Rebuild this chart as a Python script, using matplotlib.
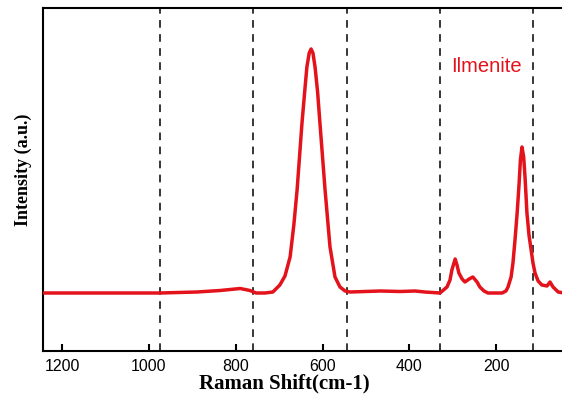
import matplotlib
matplotlib.use("Agg")
import matplotlib.pyplot as plt

# Raman spectrum (wavenumber in cm-1, intensity in a.u.)
shift = [1255, 1129, 1000, 921, 871, 828, 807, 794, 775, 758,
         743, 732, 721, 713, 706, 695.5, 689, 685, 680, 676,
         672, 667.5, 662, 657, 646, 635.4, 624.7, 614, 603, 592.5,
         528, 485, 453, 432, 399.5, 384.5, 378, 374, 367, 363,
         359, 352, 346, 337, 329, 320, 314, 305, 296.5, 266.5,
         258, 253.6, 247, 243, 238.6, 234, 230, 227, 223.6, 220,
         217, 213, 208.6, 204, 200, 195.7, 189, 181, 170, 163.5,
         157, 146, 133]
intensity = [58, 58, 58, 59, 60.5, 62.5, 60.5, 58, 58, 59,
             66, 75, 94, 126, 161, 228, 263, 284, 298, 302,
             298, 284, 259, 228, 161, 104, 74, 64, 60, 59,
             60, 59.5, 60, 59, 58, 64, 71, 81, 92, 86,
             78, 72, 69, 72, 74, 69, 64, 60, 58, 58,
             60, 64, 74, 88, 111, 138, 166, 191, 204, 194,
             173, 138, 116, 101, 88, 78, 70, 66, 65, 69,
             64, 59, 58]

guide_lines = [1000, 800, 600, 400, 200]
tick_labels = [1200, 1000, 800, 600, 400, 200]
# the printed axis is slightly off-scale from the guide lines
tick_pos = [279 + (t - 200) * 0.931 for t in tick_labels]

red = "#e3121b"

fig = plt.figure(figsize=(5.62, 3.95), dpi=100)
ax = fig.add_axes([43 / 562, 44 / 395, 1 - 43 / 562, (351 - 8) / 395])

for g in guide_lines:
    ax.axvline(g, color="black", lw=1.1, dashes=(5, 4.2), zorder=1)

ax.plot(shift, intensity, color=red, lw=2.5, solid_joinstyle="round", zorder=3)

ax.set_xlim(1251, 137.8)
ax.set_ylim(0, 343)

ax.set_xticks(tick_pos)
ax.set_xticklabels([str(t) for t in tick_labels], fontfamily="Liberation Sans", fontsize=11.5)
ax.set_yticks([])
ax.tick_params(axis="x", direction="in", length=5, width=1.5, pad=5.5)

for side in ["left", "bottom", "top"]:
    ax.spines[side].set_linewidth(1.5)
ax.spines["right"].set_visible(False)

ax.text(300.8, 284, "Ilmenite", color=red, fontsize=14.5, fontfamily="Liberation Sans",
        ha="center", va="center")

fig.text(284 / 562, 1 - 388 / 395, "Raman Shift(cm-1)", fontfamily="Liberation Serif",
         fontweight="bold", fontsize=15, ha="center", va="baseline")
fig.text(23 / 562, 1 - 170 / 395, "Intensity (a.u.)", fontfamily="Liberation Serif",
         fontweight="bold", fontsize=13, rotation=90, ha="center", va="center")

fig.savefig("out.png", dpi=100)
